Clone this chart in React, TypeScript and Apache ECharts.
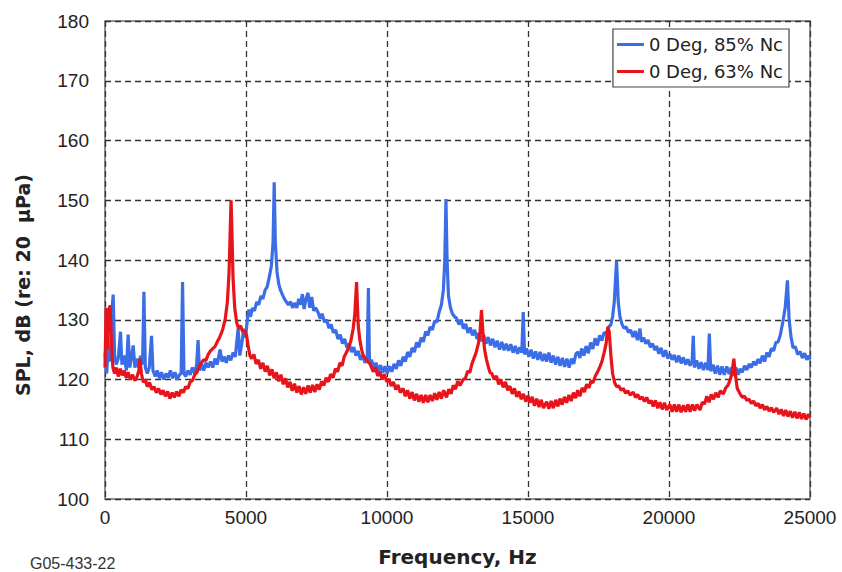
import React, { useEffect, useRef } from "react";
import * as echarts from "echarts";

const xTicks = [0, 5000, 10000, 15000, 20000, 25000];
const yTicks = [100, 110, 120, 130, 140, 150, 160, 170, 180];
const seriesNames = ["0 Deg, 85% Nc", "0 Deg, 63% Nc"];
const yTitle = "SPL, dB (re: 20  \u03BCPa)";
const xTitle = "Frequency, Hz";
const figureId = "G05-433-22";

// Blue: 0 Deg, 85% Nc  [frequency Hz, SPL dB]
const blue85: number[][] = [
  [0,124.5],[60,121],[120,126],[180,123],[240,131],[290,134.2],[340,124],[400,122.5],[470,123.5],[550,128],[600,122.5],[680,124],[760,121.5],[820,127.5],[880,122],[950,124],[1000,125.7],[1060,122],[1130,123.5],[1200,122],[1260,124],[1330,122.5],[1380,134.7],[1430,122],[1500,121],[1570,122],[1650,127.3],[1700,121.5],[1780,120.5],[1850,121.5],[1930,120.2],[2000,121.2],[2080,120],[2160,121],[2240,120.3],[2320,121.5],[2400,120.2],[2480,121.2],[2560,120],[2640,120.8],[2700,121],[2750,136.3],[2800,121],[2860,120.5],[2940,121.5],[3020,120.8],[3100,122],[3180,121],[3250,122.5],[3300,126.6],[3350,121.5],[3430,122.5],[3500,121.5],[3580,122.8],[3660,122],[3740,123],[3820,122],[3900,123.5],[3980,122.5],[4080,125],[4150,123],[4230,123.8],[4300,122.8],[4380,124],[4460,123.2],[4540,124.5],[4620,123.8],[4720,128.5],[4780,124],[4850,126],[4920,128.5],[4980,127],[5050,130],[5100,131.7],[5160,130.5],[5230,132],[5300,131.5],[5380,133],[5450,132.5],[5530,134],[5600,133.5],[5680,135],[5750,135.5],[5820,137],[5900,139],[5960,143],[6000,153],[6040,143],[6100,138],[6160,136],[6220,135],[6290,134.2],[6360,133.5],[6430,133],[6500,132.5],[6580,133],[6650,132],[6720,132.8],[6800,132],[6870,133.5],[6930,132.5],[7000,134.3],[7060,131.8],[7130,133.5],[7200,134.5],[7260,132],[7330,133.8],[7400,131.5],[7470,132],
  [7550,131.3],[7630,130.2],[7700,131],[7780,129.6],[7860,130],[7940,128.6],[8020,129.2],[8100,127.8],[8180,128.3],[8260,126.8],[8340,127.5],[8420,126],[8500,126.8],[8580,125.3],[8660,126],[8740,124.6],[8820,125.4],[8900,124],[8980,124.8],[9060,123.3],[9140,124],[9220,122.8],[9300,123.6],[9340,135.3],[9380,122.6],[9450,123.3],[9530,121.9],[9610,122.8],[9690,121.4],[9770,122.4],[9850,121.2],[9930,122.2],[10010,121],[10090,122.2],[10170,121.3],[10250,122.6],[10330,121.8],[10410,123.2],[10490,122.3],[10570,123.8],[10650,123],[10730,124.6],[10810,123.8],[10890,125.3],[10970,124.6],[11050,126.2],[11130,125.4],[11210,127],[11290,126.3],[11370,128],[11450,127.4],[11530,128.8],[11610,128.3],[11690,129.8],[11770,129.6],[11850,131.3],[11930,132.5],[12000,135],[12050,140],[12090,150.2],[12130,140],[12180,134],[12250,132],[12320,131],[12400,130.5],[12470,130.2],
  [12550,129.2],[12630,130],[12710,128.5],[12790,129.3],[12870,127.8],[12950,128.7],[13030,127.4],[13110,128.3],[13190,126.8],[13270,127.8],[13350,126.4],[13430,127.4],[13510,126],[13590,127.1],[13670,125.7],[13750,126.8],[13830,125.4],[13910,126.5],[13990,125],[14070,126.3],[14150,124.9],[14230,126],[14310,124.8],[14390,125.9],[14470,124.5],[14550,125.6],[14630,124.3],[14710,125.4],[14780,124.5],[14830,131.3],[14880,124.2],[14950,125.2],[15030,123.8],[15110,125],[15190,123.5],[15270,124.7],[15350,123.3],[15430,124.6],[15510,123.1],[15590,124.3],[15660,123],[15740,124.5],[15820,122.8],[15900,124],[15980,122.5],[16060,123.8],[16140,122.3],[16220,123.6],[16300,122.1],[16380,123.5],[16460,122],[16540,123.5],[16620,122.6],[16700,124.3],[16780,124.6],[16840,123.6],[16900,125.2],[16980,124],[17060,125.6],[17140,124.4],[17220,126.2],[17300,125.1],[17380,126.9],[17460,125.7],[17540,127.4],[17620,126.5],[17700,127.9],[17780,127.6],[17860,128.8],[17940,129.2],[18000,130.5],[18060,133],[18140,139.9],[18200,133],[18260,130.5],[18330,129.3],
  [18400,128.6],[18480,128.8],[18560,127.9],[18640,128.3],[18720,127.1],[18800,128.1],[18880,126.6],[18970,128.5],[19020,126.3],[19100,127],[19180,126],[19260,126.6],[19340,125.4],[19420,126],[19500,124.9],[19560,125.6],[19640,124.3],[19720,125.3],[19800,123.8],[19880,124.9],[19960,123.5],[20030,124.3],[20110,123.3],[20190,124.1],[20270,122.9],[20350,124],[20430,122.7],[20510,123.7],[20590,122.5],[20670,123.4],[20750,122.3],[20820,123.1],[20860,127.3],[20900,122],[20980,123.2],[21060,121.8],[21140,122.9],[21220,121.6],[21300,122.8],[21380,121.6],[21430,127.7],[21480,121.4],[21560,122.5],[21640,121],[21720,122.3],[21800,120.8],[21880,122.2],[21960,120.8],[22050,122.2],[22130,120.9],[22210,122],[22290,120.6],[22370,122],[22450,120.8],[22520,121.8],[22600,121.2],[22680,122.3],[22760,121.6],[22840,122.6],[22920,122],[23000,123],[23080,122.4],[23160,123.4],[23230,122.7],[23310,124],[23390,123],[23470,124.5],[23550,123.8],[23630,125.2],[23710,124.8],[23790,126.2],[23870,126.3],[23950,127.5],[24050,130],[24120,132],[24200,136.6],[24260,130],[24330,127],
  [24400,125.3],[24480,125.5],[24560,124.2],[24650,124.7],[24730,123.6],[24810,124.4],[24890,123.3],[24960,124],[25000,123.4]
];

// Red: 0 Deg, 63% Nc  [frequency Hz, SPL dB]
const red63: number[][] = [
  [0,122],[40,132],[80,125],[120,131],[180,132.4],[230,126],[280,122],[340,121],[400,122],[470,120.5],[540,121.8],[610,120.7],[680,121.5],[750,120.3],[820,121.2],[900,120],[980,120.8],[1060,119.8],[1140,120.5],[1200,121.5],[1240,123.5],[1290,121],[1360,119.5],[1430,120],[1500,118.8],[1580,119.5],[1660,118.3],[1740,118.8],[1820,117.8],[1900,118.5],[1980,117.5],[2060,118.2],[2140,117.2],[2220,118],[2300,116.8],[2380,117.8],[2460,117],[2540,118],[2620,117.2],[2700,118.3],[2780,117.8],[2860,118.8],[2940,118.5],[3020,119.6],[3100,119.8],[3180,120.8],[3260,121.2],[3340,122.2],[3420,122.8],[3500,123.3],[3580,123.2],[3660,124.2],[3740,124.8],[3830,125.2],[3900,125.5],[3980,126.3],[4060,127],[4130,127.8],[4180,128.5],[4260,130],[4340,133],[4400,138],[4440,145],[4470,150],[4500,145],[4540,137],[4600,132],[4670,129.5],[4740,128.5],[4810,129],[4880,128],[4950,128.2],[5020,127.4],[5080,125.5],[5140,124],
  [5200,123.5],[5280,124.2],[5360,122.6],[5440,123.3],[5520,121.8],[5600,122.8],[5680,121.3],[5760,122.3],[5840,120.7],[5920,121.7],[6000,120.2],[6080,121.2],[6160,119.7],[6240,120.8],[6320,119.2],[6400,120.2],[6480,118.7],[6560,119.6],[6640,118.1],[6720,119.3],[6800,117.8],[6880,118.9],[6960,117.5],[7040,118.7],[7120,117.6],[7200,119],[7280,117.8],[7360,119.1],[7440,117.9],[7520,119.2],[7600,118.3],[7680,119.7],[7760,119],[7840,120.3],[7920,119.6],[8000,120.9],[8090,120.3],[8170,121.8],[8250,121.3],[8330,122.8],[8410,122.3],[8480,123.8],[8570,124.6],[8650,125.5],[8720,126.5],[8800,128.5],[8860,131],[8920,136.3],[8980,129],[9040,126.5],[9100,125],[9160,124],[9240,123.5],[9320,123],[9400,122.6],
  [9510,121.3],[9590,122],[9670,120.6],[9750,121.3],[9830,120],[9910,120.9],[9990,119.6],[10070,120.1],[10150,118.9],[10230,119.6],[10310,118.3],[10390,119.1],[10470,117.8],[10570,118.5],[10650,117.2],[10730,118.2],[10810,116.8],[10890,117.9],[10970,116.5],[11050,117.6],[11130,116.3],[11210,117.4],[11290,116.1],[11370,117.4],[11450,116.2],[11530,117.4],[11610,116.4],[11690,117.7],[11770,116.6],[11850,117.9],[11930,116.8],[12010,118.2],[12110,117],[12190,118.4],[12270,117.6],[12350,119],[12430,118.4],[12510,119.7],[12590,119],[12700,120],[12780,120.2],[12860,121.4],[12940,121.2],[13010,122.6],[13080,123.5],[13160,124.5],[13240,126],[13300,128],[13350,131.6],[13400,128],[13460,125],[13530,123.3],[13600,122],[13650,121.2],[13720,121],
  [13800,120],[13880,120.6],[13960,119.2],[14040,120],[14120,118.7],[14200,119.6],[14280,118.2],[14360,118.9],[14440,117.6],[14520,118.5],[14600,117.1],[14680,118],[14760,116.7],[14840,117.6],[14920,116.3],[15000,117.3],[15070,116.1],[15150,117.1],[15230,115.6],[15310,116.8],[15390,115.4],[15470,116.6],[15550,115.2],[15660,116.3],[15740,115.1],[15820,116.4],[15900,115.2],[15980,116.6],[16060,115.5],[16130,116.8],[16210,115.8],[16290,117.1],[16370,116.1],[16450,117.4],[16530,116.4],[16610,117.8],[16690,116.9],[16760,118.2],[16840,117.2],[16920,118.6],[17000,117.9],[17080,119.2],[17160,118.6],[17240,119.8],[17300,119.4],[17380,120.5],[17460,121.2],[17540,122],[17620,123],[17700,124.5],[17770,126],[17830,128.8],[17880,128],[17940,124],[18000,121],[18070,119.5],[18140,118.8],
  [18220,118.9],[18300,118.2],[18380,118.5],[18460,117.7],[18540,118.1],[18620,117.4],[18730,117.9],[18810,117],[18890,117.5],[18970,116.7],[19050,117.1],[19130,116.3],[19210,117],[19290,116],[19370,116.5],[19440,115.5],[19520,116.5],[19600,115.2],[19680,116.2],[19760,115],[19840,116.1],[19920,114.9],[20030,115.8],[20110,114.6],[20190,115.8],[20270,114.6],[20350,115.8],[20430,114.5],[20510,115.7],[20590,114.6],[20670,115.8],[20750,114.6],[20830,115.8],[20910,114.8],[20990,115.8],[21100,114.9],[21180,116.2],[21260,115.9],[21340,117.2],[21420,116.2],[21500,117.5],[21580,116.7],[21660,117.8],[21740,117],[21820,118.1],[21930,117.6],[22010,118.6],[22090,119],[22160,119.8],[22230,121],[22300,123.5],[22350,121],[22420,118.5],
  [22520,117.6],[22600,117],[22680,117.2],[22760,116.5],[22840,116.7],[22920,116],[23000,116.4],[23080,115.6],[23160,116],[23230,115.2],[23310,115.8],[23390,114.9],[23470,115.5],[23550,114.7],[23630,115.3],[23710,114.5],[23820,115.2],[23900,114.2],[23980,115],[24060,113.9],[24140,114.9],[24220,113.8],[24300,114.7],[24380,113.6],[24460,114.6],[24540,113.5],[24620,114.5],[24700,113.4],[24780,114.3],[24860,113.3],[24940,114.2],[25000,113.6]
];

const FONT = "Liberation Sans, Arial, sans-serif";
const WIDE = "DejaVu Sans, Verdana, sans-serif";

export default function App() {
  const ref = useRef<HTMLDivElement>(null);
  useEffect(() => {
    if (!ref.current) return;
    const chart = echarts.init(ref.current, undefined, { renderer: "svg" });
    chart.setOption({
      animation: false,
      backgroundColor: "#ffffff",
      grid: {
        left: 105, right: 32, top: 21, bottom: 71,
        show: true, borderColor: "#6e6e6e", borderWidth: 1.5, backgroundColor: "transparent",
      },
      legend: {
        data: seriesNames,
        right: 53, top: 29, orient: "vertical",
        icon: "rect",
        backgroundColor: "#ffffff", borderColor: "#444", borderWidth: 1.2,
        padding: [5, 6, 5, 4], itemGap: 6, itemWidth: 27, itemHeight: 3,
        textStyle: { fontFamily: WIDE, fontSize: 18, lineHeight: 21, color: "#222" },
      },
      xAxis: {
        type: "value", min: xTicks[0], max: xTicks[xTicks.length - 1], interval: 5000,
        name: xTitle, nameLocation: "middle", nameGap: 48,
        nameTextStyle: { fontFamily: WIDE, fontSize: 20, fontWeight: "bold", color: "#222" },
        axisLine: { show: false }, axisTick: { show: false },
        axisLabel: { fontFamily: FONT, fontSize: 19, color: "#222", margin: 9, formatter: (v: number) => String(v) },
        splitLine: { show: true, lineStyle: { type: [6, 4], color: "#333", width: 1.3 } },
      },
      yAxis: {
        type: "value", min: yTicks[0], max: yTicks[yTicks.length - 1], interval: 10,
        axisLine: { show: false }, axisTick: { show: false },
        axisLabel: { fontFamily: FONT, fontSize: 19, color: "#222", margin: 16 },
        splitLine: { show: true, lineStyle: { type: [6, 4], color: "#333", width: 1.3 } },
      },
      graphic: [
        {
          type: "text", x: 23, y: 285, rotation: Math.PI / 2,
          style: { text: yTitle, font: `bold 19px ${WIDE}`, fill: "#222", align: "center", verticalAlign: "middle" },
        },
        { type: "text", left: 30, top: 555, style: { text: figureId, font: `16px ${FONT}`, fill: "#333" } },
      ],
      series: [
        { name: seriesNames[0], type: "line", data: blue85, symbol: "none", lineStyle: { color: "#3b6ee6", width: 3.2 }, itemStyle: { color: "#3b6ee6" } },
        { name: seriesNames[1], type: "line", data: red63, symbol: "none", lineStyle: { color: "#e8141b", width: 3.2 }, itemStyle: { color: "#e8141b" } },
      ],
    });
    return () => chart.dispose();
  }, []);
  return <div ref={ref} style={{ position: "fixed", left: 0, top: 0, width: 842, height: 572 }} />;
}
